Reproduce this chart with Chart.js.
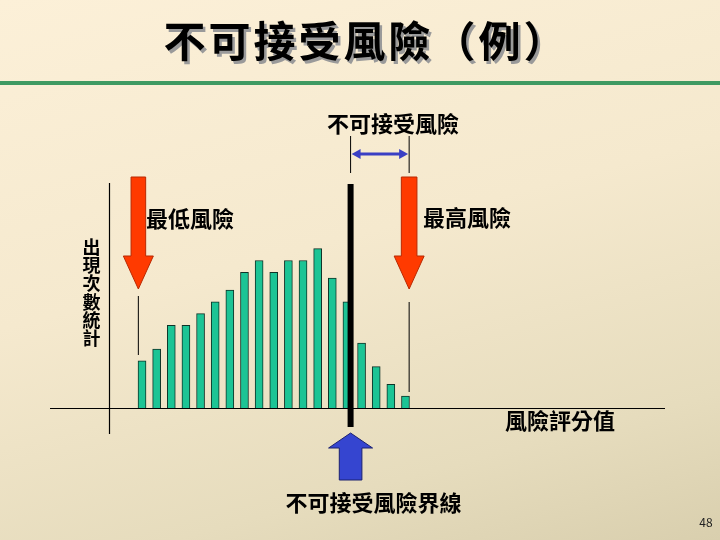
<!DOCTYPE html>
<html>
<head>
<meta charset="utf-8">
<script src="https://cdn.jsdelivr.net/npm/chart.js@4.4.1/dist/chart.umd.min.js"></script>
<style>
  html, body { margin: 0; padding: 0; }
  body {
    width: 720px; height: 540px; overflow: hidden;
    background: linear-gradient(165deg, #fcf0d8 0%, #f5e9ce 45%, #e6dcbd 80%, #d9cfae 100%);
  }
  #chart { display: block; }
</style>
</head>
<body>
<canvas id="chart" width="720" height="540"></canvas>
<script>
// 風險評分值 (x) 與 出現次數 (y)
const scores = [1, 2, 3, 4, 5, 6, 7, 8, 9, 10, 11, 12, 13, 14, 15, 16, 17, 18, 19];
const counts = [4, 5, 7, 7, 8, 9, 10, 11.5, 12.5, 11.5, 12.5, 12.5, 13.5, 11, 9, 5.5, 3.5, 2, 1];

// 界線位置 (以風險評分值表示)
const minRiskScore = 0.75;
const maxRiskScore = 19.25;
const thresholdScore = 15.25;

const titleText = "不可接受風險（例）";
const rangeLabel = "不可接受風險";
const minLabel = "最低風險";
const maxLabel = "最高風險";
const xLabel = "風險評分值";
const yLabel = "出現次數統計";
const lineLabel = "不可接受風險界線";
const pageNo = "48";

const CJK = '"Noto Sans CJK TC", "Noto Sans CJK SC", sans-serif';

// 向下/向上的粗箭頭
function blockArrow(ctx, cx, yTail, yHeadBase, yTip, shaftHalf, headHalf, fill, stroke) {
  ctx.beginPath();
  ctx.moveTo(cx - shaftHalf, yTail);
  ctx.lineTo(cx + shaftHalf, yTail);
  ctx.lineTo(cx + shaftHalf, yHeadBase);
  ctx.lineTo(cx + headHalf, yHeadBase);
  ctx.lineTo(cx, yTip);
  ctx.lineTo(cx - headHalf, yHeadBase);
  ctx.lineTo(cx - shaftHalf, yHeadBase);
  ctx.closePath();
  ctx.fillStyle = fill;
  ctx.fill();
  ctx.lineWidth = 1;
  ctx.strokeStyle = stroke;
  ctx.stroke();
}

function vline(ctx, x, y1, y2, w, color) {
  ctx.beginPath();
  ctx.moveTo(x, y1);
  ctx.lineTo(x, y2);
  ctx.lineWidth = w;
  ctx.strokeStyle = color;
  ctx.stroke();
}

const decorPlugin = {
  id: "decor",
  beforeDatasetsDraw(chart) {
    const ctx = chart.ctx;
    const ys = chart.scales.y;
    const base = ys.getPixelForValue(0);
    ctx.save();

    // 標題下綠線
    ctx.fillStyle = "#3f9a62";
    ctx.fillRect(0, 81, 720, 4);

    // 座標軸
    ctx.beginPath();
    ctx.moveTo(50, base + 0.5);
    ctx.lineTo(665, base + 0.5);
    ctx.lineWidth = 1.2;
    ctx.strokeStyle = "#000";
    ctx.stroke();
    vline(ctx, 109.5, 183, 434, 1.2, "#000");

    ctx.restore();
  },
  afterDatasetsDraw(chart) {
    const ctx = chart.ctx;
    const xs = chart.scales.x;
    const xMin = xs.getPixelForValue(minRiskScore);
    const xMax = xs.getPixelForValue(maxRiskScore);
    const xThr = xs.getPixelForValue(thresholdScore);
    ctx.save();

    // 界線
    vline(ctx, xThr, 184, 427, 6, "#000");

    // 最低 / 最高風險
    blockArrow(ctx, xMin, 177, 256, 289, 7.3, 15, "#ff3a00", "#b82800");
    blockArrow(ctx, xMax, 177, 256, 289, 7.8, 15, "#ff3a00", "#b82800");
    vline(ctx, xMin, 296, 355, 1, "#000");
    vline(ctx, xMax, 302, 392, 1, "#000");

    // 不可接受範圍
    vline(ctx, xThr, 136, 173, 1, "#000");
    vline(ctx, xMax, 136, 173, 1, "#000");
    ctx.beginPath();
    ctx.moveTo(xThr + 7, 154);
    ctx.lineTo(xMax - 7, 154);
    ctx.lineWidth = 3;
    ctx.strokeStyle = "#3a3fc4";
    ctx.stroke();
    ctx.fillStyle = "#3a3fc4";
    ctx.beginPath();
    ctx.moveTo(xThr + 1, 154);
    ctx.lineTo(xThr + 10, 149);
    ctx.lineTo(xThr + 10, 159);
    ctx.closePath();
    ctx.fill();
    ctx.beginPath();
    ctx.moveTo(xMax - 1, 154);
    ctx.lineTo(xMax - 10, 149);
    ctx.lineTo(xMax - 10, 159);
    ctx.closePath();
    ctx.fill();

    // 界線箭頭 (藍)
    blockArrow(ctx, xThr, 480, 448, 433, 11.3, 22, "#3545d0", "#1a2070");

    // 文字
    ctx.textBaseline = "middle";
    ctx.textAlign = "center";
    ctx.font = "bold 42px " + CJK;
    ctx.letterSpacing = "3px";
    ctx.fillStyle = "#9a9a9a";
    ctx.fillText(titleText, 368.5, 44);
    ctx.fillStyle = "#000";
    ctx.fillText(titleText, 366, 41);
    ctx.letterSpacing = "0px";

    ctx.font = "bold 22px " + CJK;
    ctx.fillText(rangeLabel, 393, 124);
    ctx.fillText(lineLabel, 373.5, 503);
    ctx.textAlign = "left";
    ctx.fillText(minLabel, 146, 219);
    ctx.fillText(maxLabel, 423, 218);
    ctx.fillText(xLabel, 505, 421);

    ctx.textAlign = "center";
    ctx.font = "bold 18px " + CJK;
    [...yLabel].forEach((ch, i) => {
      ctx.fillText(ch, 91.5, 247 + i * 18.3);
    });

    ctx.font = "12px " + CJK;
    ctx.fillStyle = "#222";
    ctx.fillText(pageNo, 706, 522);

    ctx.restore();
  }
};

const ctx = document.getElementById("chart").getContext("2d");

new Chart(ctx, {
  type: "bar",
  data: {
    datasets: [{
      label: yLabel,
      data: scores.map((s, i) => ({ x: s, y: counts[i] })),
      backgroundColor: "#1cc495",
      borderColor: "#0f3327",
      borderWidth: 1,
      borderSkipped: "bottom",
      barThickness: 8
    }]
  },
  options: {
    responsive: false,
    devicePixelRatio: 1,
    animation: false,
    layout: { padding: { left: 134.7, right: 307.2, top: 172, bottom: 132 } },
    plugins: {
      legend: { display: false },
      tooltip: { enabled: false }
    },
    scales: {
      x: { type: "linear", min: 0.5, max: 19.5, display: false, offset: false },
      y: { min: 0, max: 20, display: false }
    }
  },
  plugins: [decorPlugin]
});
</script>
</body>
</html>
